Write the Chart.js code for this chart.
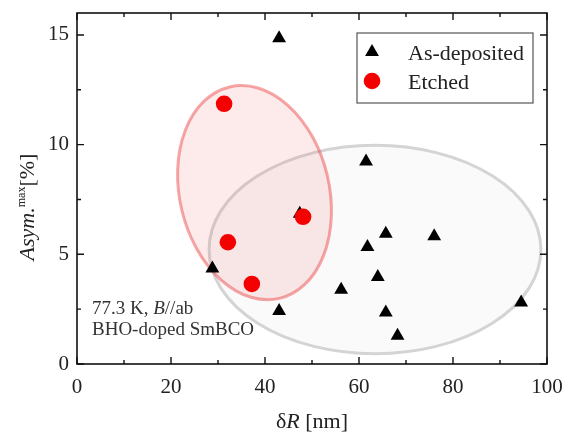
<!DOCTYPE html>
<html><head><meta charset="utf-8">
<script src="https://cdn.jsdelivr.net/npm/chart.js@4.4.1/dist/chart.umd.min.js"></script>
<style>html,body{margin:0;padding:0;background:#fff;}#wrap{width:571px;height:434px;}</style>
</head><body><div id="wrap"><canvas id="c" width="571" height="434"></canvas></div>
<script>
// ---- data ----
const seriesNames = ['As-deposited', 'Etched'];
const asDepositedX = [43.0, 61.5, 47.4, 28.8, 43.0, 65.7, 76.0, 61.8, 64.0, 56.2, 65.7, 68.2, 94.5];
const asDepositedY = [14.85, 9.23, 6.85, 4.35, 2.42, 5.94, 5.82, 5.33, 3.97, 3.39, 2.35, 1.29, 2.80];
const etchedX = [31.3, 48.1, 32.1, 37.2];
const etchedY = [11.86, 6.71, 5.55, 3.65];
const xRange = [0, 100];
const yRange = [0, 16];
const xTicks = [0, 20, 40, 60, 80, 100];
const xMinorTicks = [10, 30, 50, 70, 90];
const yTicks = [0, 5, 10, 15];
const yMinorTicks = [2.5, 7.5, 12.5];
// ellipses (data units): centre and two semi-axis vectors
const grayEllipseCenter = [63.4, 5.22];
const grayEllipseAxisA = [35.3, 0];
const grayEllipseAxisB = [0, 4.75];
const redEllipseCenter = [37.77, 7.81];
const redEllipseAxisA = [-5.30, 4.82];
const redEllipseAxisB = [15.49, 0.78];
const xTitle = [['δ', ''], ['R', 'italic '], [' [nm]', '']];
const yTitle = [['Asym.', 'italic '], ['max', 'sup'], ['[%]', '']];
const noteLine1 = [['77.3 K, ', ''], ['B', 'italic '], ['//ab', '']];
const noteLine2 = [['BHO-doped SmBCO', '']];

const FAM = '"Liberation Serif", "Times New Roman", serif';

function toPts(xs, ys) { return xs.map((x, i) => ({ x: x, y: ys[i] })); }

function drawRuns(ctx, runs, x, y, size, align, color) {
  const parts = runs.map(([t, st]) => {
    const sup = st === 'sup';
    const f = sup ? (Math.round(size * 0.55) + 'px ' + FAM) : (st + size + 'px ' + FAM);
    ctx.font = f;
    return { t, f, w: ctx.measureText(t).width, dy: sup ? -size * 0.42 : 0 };
  });
  const total = parts.reduce((a, p) => a + p.w, 0);
  let cx = align === 'center' ? x - total / 2 : x;
  ctx.fillStyle = color;
  ctx.textBaseline = 'alphabetic';
  ctx.textAlign = 'left';
  for (const p of parts) { ctx.font = p.f; ctx.fillText(p.t, cx, y + p.dy); cx += p.w; }
}

function drawEllipse(chart, c, a, b, fill, stroke, lw) {
  const ctx = chart.ctx, xs = chart.scales.x, ys = chart.scales.y;
  const cx = xs.getPixelForValue(c[0]), cy = ys.getPixelForValue(c[1]);
  const ax = xs.getPixelForValue(c[0] + a[0]) - cx, ay = ys.getPixelForValue(c[1] + a[1]) - cy;
  const bx = xs.getPixelForValue(c[0] + b[0]) - cx, by = ys.getPixelForValue(c[1] + b[1]) - cy;
  ctx.save();
  ctx.beginPath();
  ctx.transform(ax, ay, bx, by, cx, cy);
  ctx.arc(0, 0, 1, 0, Math.PI * 2);
  ctx.restore();
  ctx.save();
  ctx.fillStyle = fill; ctx.fill();
  ctx.strokeStyle = stroke; ctx.lineWidth = lw; ctx.stroke();
  ctx.restore();
}

const figPlugin = {
  id: 'fig',
  beforeDatasetsDraw(chart) {
    const ca = chart.chartArea, ctx = chart.ctx;
    ctx.save();
    ctx.beginPath(); ctx.rect(ca.left, ca.top, ca.right - ca.left, ca.bottom - ca.top); ctx.clip();
    drawEllipse(chart, grayEllipseCenter, grayEllipseAxisA, grayEllipseAxisB, '#fafafa', '#d4d4d4', 3);
    drawEllipse(chart, redEllipseCenter, redEllipseAxisA, redEllipseAxisB, 'rgba(240,80,80,0.12)', 'rgba(235,60,60,0.45)', 3);
    ctx.restore();
  },
  afterDraw(chart) {
    const ctx = chart.ctx, ca = chart.chartArea, xs = chart.scales.x, ys = chart.scales.y;
    ctx.save();
    // frame
    ctx.strokeStyle = '#111'; ctx.lineWidth = 1.6;
    ctx.strokeRect(ca.left, ca.top, ca.right - ca.left, ca.bottom - ca.top);
    // inward ticks
    ctx.lineWidth = 1.4;
    const tick = (v, len, horiz) => {
      ctx.beginPath();
      if (horiz) {
        const px = xs.getPixelForValue(v);
        ctx.moveTo(px, ca.bottom); ctx.lineTo(px, ca.bottom - len);
        ctx.moveTo(px, ca.top); ctx.lineTo(px, ca.top + len);
      } else {
        const py = ys.getPixelForValue(v);
        ctx.moveTo(ca.left, py); ctx.lineTo(ca.left + len, py);
        ctx.moveTo(ca.right, py); ctx.lineTo(ca.right - len, py);
      }
      ctx.stroke();
    };
    xTicks.forEach(v => tick(v, 7, true));
    xMinorTicks.forEach(v => tick(v, 4, true));
    yTicks.forEach(v => tick(v, 7, false));
    yMinorTicks.forEach(v => tick(v, 4, false));
    // legend
    ctx.strokeStyle = '#555'; ctx.lineWidth = 1.2;
    ctx.strokeRect(357, 33, 176, 70);
    const ds = chart.data.datasets;
    const rows = [52, 81];
    ds.forEach((d, i) => {
      const x = 372, y = rows[i], r = d.pointRadius;
      ctx.fillStyle = d.backgroundColor;
      ctx.beginPath();
      if (d.pointStyle === 'triangle') {
        ctx.moveTo(x, y - r); ctx.lineTo(x + r * Math.sin(2 * Math.PI / 3), y - r * Math.cos(2 * Math.PI / 3));
        ctx.lineTo(x + r * Math.sin(4 * Math.PI / 3), y - r * Math.cos(4 * Math.PI / 3)); ctx.closePath();
      } else {
        ctx.arc(x, y, r, 0, Math.PI * 2);
      }
      ctx.fill();
      drawRuns(ctx, [[d.label, '']], 408, rows[i] + 8, 22, 'left', '#222');
    });
    // annotation
    drawRuns(ctx, noteLine1, 92, 314, 19, 'left', '#333');
    drawRuns(ctx, noteLine2, 92, 335, 19, 'left', '#333');
    // axis titles
    drawRuns(ctx, xTitle, (ca.left + ca.right) / 2, 428, 22, 'center', '#222');
    ctx.save();
    ctx.translate(34, 207);
    ctx.rotate(-Math.PI / 2);
    drawRuns(ctx, yTitle, 0, 0, 22, 'center', '#222');
    ctx.restore();
    ctx.restore();
  }
};

new Chart(document.getElementById('c'), {
  type: 'scatter',
  data: {
    datasets: [
      { label: seriesNames[0], data: toPts(asDepositedX, asDepositedY), pointStyle: 'triangle',
        pointRadius: 8, backgroundColor: '#000', borderColor: '#000', borderWidth: 0, order: 2 },
      { label: seriesNames[1], data: toPts(etchedX, etchedY), pointStyle: 'circle',
        pointRadius: 8.3, backgroundColor: '#f50000', borderColor: '#f50000', borderWidth: 0, order: 1 }
    ]
  },
  options: {
    responsive: false, animation: false, devicePixelRatio: 1,
    layout: { padding: { top: 13, right: 24, left: 0, bottom: 0 } },
    plugins: { legend: { display: false }, tooltip: { enabled: false } },
    scales: {
      x: {
        type: 'linear', min: xRange[0], max: xRange[1],
        afterBuildTicks: s => { s.ticks = xTicks.map(v => ({ value: v })); },
        afterFit: s => { s.height = 70; s.paddingLeft = 0; s.paddingRight = 0; },
        grid: { display: false, drawTicks: false }, border: { display: false },
        ticks: { font: { family: FAM, size: 21 }, color: '#222', padding: 11, maxRotation: 0 }
      },
      y: {
        type: 'linear', min: yRange[0], max: yRange[1],
        afterBuildTicks: s => { s.ticks = yTicks.map(v => ({ value: v })); },
        afterFit: s => { s.width = 77; s.paddingTop = 0; s.paddingBottom = 0; },
        grid: { display: false, drawTicks: false }, border: { display: false },
        ticks: { font: { family: FAM, size: 21 }, color: '#222', padding: 8 }
      }
    }
  },
  plugins: [figPlugin]
});
</script></body></html>
